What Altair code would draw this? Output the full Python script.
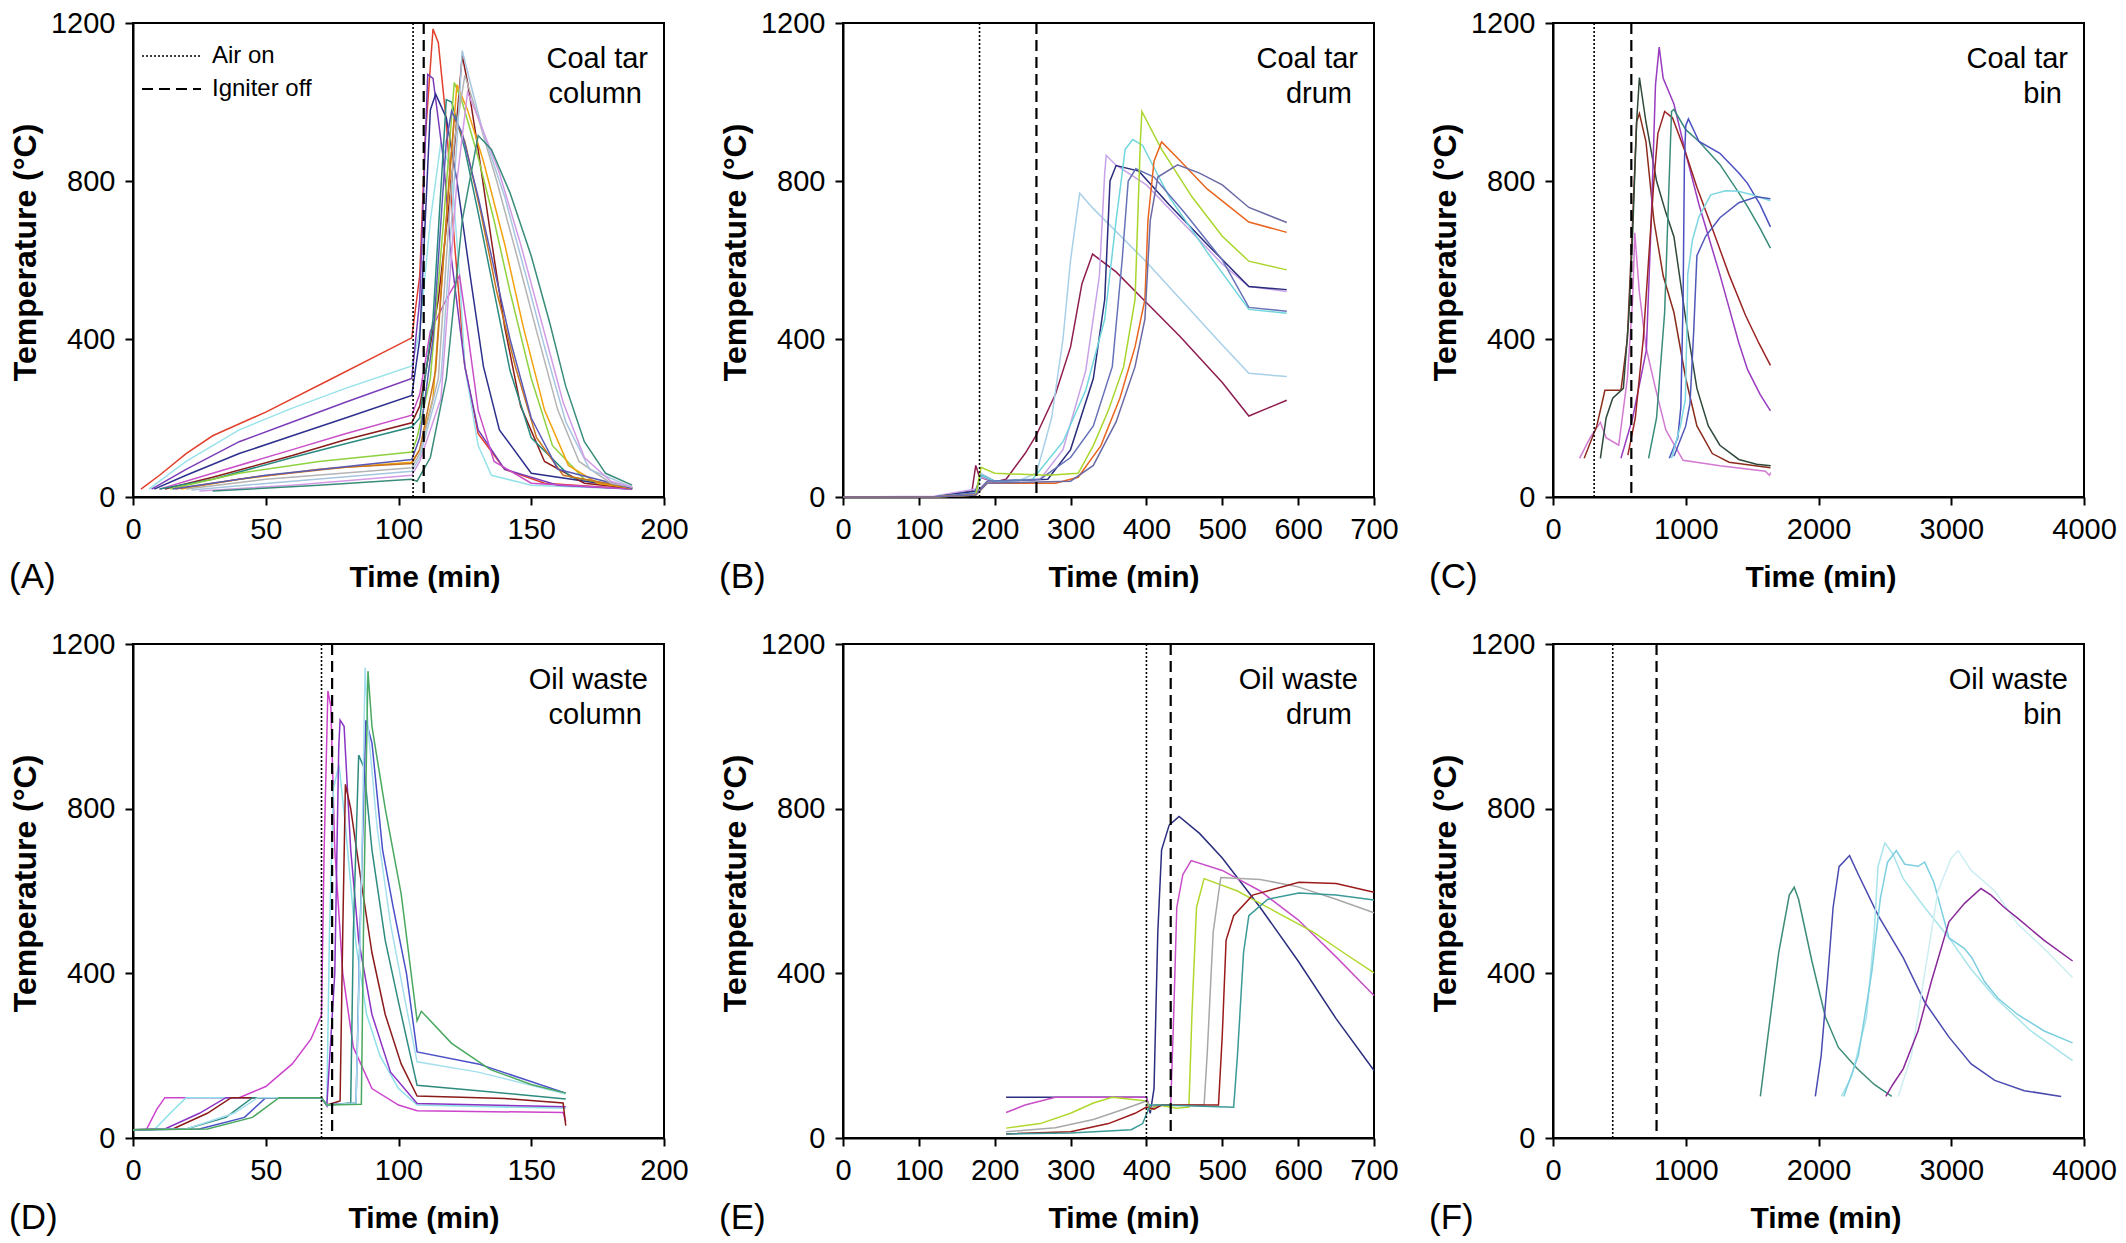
import altair as alt
import pandas as pd

FONT = "Liberation Sans, Arial, Helvetica, sans-serif"

# ---------------- Panel A: Coal tar column ----------------
A_red = [[3,20],[10,55],[20,110],[30,155],[50,215],[75,300],[105,403],[108,560],[110,900],[113,1185],[115,1150],[118,950],[121,650],[125,330],[130,160],[140,70],[155,35],[188,20]]
A_cyan = [[6,20],[20,90],[40,170],[60,225],[80,275],[105,332],[108,420],[112,700],[116,900],[120,820],[123,560],[125,330],[130,130],[135,55],[150,30],[188,20]]
A_purple = [[7,20],[20,70],[40,140],[60,190],[80,240],[105,300],[108,500],[111,1070],[113,1060],[117,850],[120,600],[125,330],[130,170],[140,70],[160,30],[188,20]]
A_navy = [[8,20],[20,55],[40,110],[60,155],[80,200],[105,257],[108,400],[112,980],[114,1020],[118,960],[122,800],[127,560],[132,330],[138,170],[150,60],[188,22]]
A_pink = [[10,20],[30,60],[60,120],[80,160],[105,207],[108,260],[112,420],[118,500],[123,560],[126,420],[130,220],[136,90],[150,35],[188,20]]
A_brown = [[12,20],[30,50],[60,105],[80,145],[105,188],[108,230],[115,500],[120,800],[124,1118],[126,1050],[130,880],[135,650],[140,430],[146,230],[155,90],[170,35],[188,22]]
A_teal = [[10,20],[30,45],[60,100],[80,135],[105,177],[108,200],[113,450],[118,1006],[120,1000],[125,880],[130,720],[136,520],[142,320],[150,150],[165,50],[188,22]]
A_lgreen = [[14,20],[40,60],[70,90],[105,114],[107,150],[112,300],[117,700],[121,1049],[124,1000],[130,860],[136,700],[142,520],[150,300],[158,130],[170,45],[188,22]]
A_orange = [[18,20],[40,45],[70,70],[105,88],[108,120],[113,250],[118,700],[122,1044],[126,980],[132,850],[140,640],[147,430],[155,220],[164,80],[175,35],[188,22]]
A_dorange = [[16,20],[45,50],[80,75],[105,85],[108,120],[114,320],[119,800],[121,960],[125,900],[131,720],[137,520],[144,330],[152,150],[162,55],[188,22]]
A_navy2 = [[15,20],[50,55],[105,95],[108,150],[113,400],[118,900],[120,977],[124,920],[130,760],[136,580],[142,400],[150,200],[160,70],[188,22]]
A_lgrey = [[20,20],[50,45],[105,74],[108,110],[115,300],[121,900],[125,1068],[130,960],[137,800],[145,600],[152,420],[160,220],[168,90],[180,35],[188,25]]
A_lblue = [[22,18],[60,40],[105,65],[108,100],[116,300],[122,900],[124,1130],[127,1050],[132,920],[140,760],[148,560],[155,380],[163,190],[172,70],[188,25]]
A_lavender = [[25,15],[60,30],[105,55],[108,90],[116,250],[122,800],[126,1025],[130,960],[138,820],[146,640],[154,440],[162,240],[170,100],[180,40],[188,25]]
A_dteal = [[30,15],[70,30],[105,45],[107,40],[112,100],[118,300],[124,700],[130,915],[135,880],[142,770],[150,610],[157,440],[163,280],[170,140],[178,60],[188,30]]

A_series = [A_red, A_cyan, A_purple, A_navy, A_pink, A_brown, A_teal, A_lgreen,
            A_orange, A_dorange, A_navy2, A_lgrey, A_lblue, A_lavender, A_dteal]
A_colors = ["#e2402c", "#98e2ea", "#7a3cb8", "#2c2f8c", "#c84fc8", "#8b1c1c", "#2a8a80", "#8fd13f",
            "#f2a20c", "#c8741e", "#5a5ab5", "#b4b4b4", "#a6c6e0", "#d39be6", "#3a8c7a"]

# ---------------- Panel B: Coal tar drum ----------------
B_maroon = [[0,0],[120,0],[170,15],[175,80],[180,50],[200,38],[215,45],[240,110],[255,157],[280,260],[300,380],[315,540],[329,615],[360,570],[394,504],[444,407],[500,290],[535,205],[560,225],[585,245]]
B_lightblue = [[0,0],[120,0],[175,15],[182,60],[200,40],[230,40],[255,60],[275,200],[290,400],[300,600],[312,769],[330,730],[400,595],[450,490],[500,385],[535,313],[585,305]]
B_lavender = [[0,0],[120,2],[175,20],[182,50],[200,40],[260,45],[290,120],[320,320],[338,560],[345,820],[347,865],[360,840],[400,790],[450,690],[500,590],[535,533],[585,520]]
B_navy = [[0,0],[120,0],[175,15],[182,55],[200,40],[270,45],[300,120],[330,300],[345,500],[352,800],[360,839],[390,825],[430,740],[480,640],[535,533],[585,525]]
B_cyan = [[0,0],[120,0],[175,10],[182,55],[200,40],[250,45],[290,140],[320,270],[345,450],[360,700],[372,880],[382,905],[395,890],[430,760],[480,620],[535,475],[585,465]]
B_slate = [[0,0],[120,0],[175,10],[190,40],[260,45],[300,100],[330,180],[355,330],[368,600],[376,800],[386,831],[410,810],[450,720],[500,600],[535,480],[585,470]]
B_lgreen = [[0,0],[120,0],[175,5],[182,75],[200,60],[270,55],[310,60],[330,130],[350,220],[370,330],[385,500],[392,900],[394,976],[420,880],[460,760],[500,660],[535,597],[585,575]]
B_orange = [[0,0],[120,0],[175,5],[190,35],[280,35],[310,50],[340,130],[365,250],[385,380],[398,500],[402,700],[410,850],[420,899],[440,860],[480,780],[535,696],[585,670]]
B_slate2 = [[0,0],[120,0],[175,5],[190,35],[300,40],[330,80],[360,190],[385,330],[398,450],[405,700],[415,810],[441,841],[470,820],[500,790],[535,733],[585,695]]

B_series = [B_maroon, B_lightblue, B_lavender, B_navy, B_cyan, B_slate, B_lgreen, B_orange, B_slate2]
B_colors = ["#8e1d4f", "#a8d0e8", "#c8a2e8", "#2a2c7c", "#6fd6dc", "#6672b8", "#aad62c", "#e8651e", "#6a6aa6"]

# ---------------- Panel C: Coal tar bin ----------------
C_pink = [[200,98],[280,150],[357,189],[400,150],[495,131],[560,300],[600,500],[616,669],[650,520],[700,380],[772,275],[850,170],[980,93],[1257,79],[1600,65],[1630,55],[1640,62]]
C_brown = [[235,98],[330,180],[391,270],[512,270],[560,400],[600,700],[630,950],[651,971],[700,900],[760,700],[830,560],[911,467],[1000,300],[1084,180],[1200,110],[1326,88],[1638,74]]
C_dgreen = [[357,98],[400,200],[450,250],[530,275],[570,450],[599,659],[630,950],[651,1062],[700,950],[780,800],[850,720],[911,659],[1000,450],[1084,275],[1170,180],[1257,131],[1400,95],[1534,83],[1640,79]]
C_purple = [[512,98],[600,200],[703,371],[740,700],[772,1043],[800,1139],[830,1060],[911,995],[1000,870],[1100,740],[1257,563],[1400,390],[1465,323],[1560,260],[1638,218]]
C_brown2 = [[564,106],[620,200],[680,400],[720,600],[760,800],[790,920],[841,976],[900,960],[1000,870],[1084,784],[1200,680],[1326,563],[1450,460],[1550,390],[1638,333]]
C_teal = [[720,98],[780,200],[841,467],[880,850],[893,976],[911,981],[1000,930],[1100,900],[1257,842],[1400,770],[1465,736],[1560,680],[1638,630]]
C_blue = [[876,98],[940,150],[963,227],[980,500],[990,850],[1000,940],[1020,957],[1100,900],[1257,870],[1400,820],[1465,794],[1560,740],[1638,684]]
C_cyan = [[893,98],[960,180],[997,247],[1010,450],[1015,563],[1050,650],[1100,710],[1188,765],[1300,775],[1396,774],[1500,765],[1638,750]]
C_blue2 = [[911,103],[1000,180],[1032,237],[1060,420],[1084,611],[1150,660],[1257,707],[1400,745],[1534,760],[1638,755]]

C_series = [C_pink, C_brown, C_dgreen, C_purple, C_brown2, C_teal, C_blue, C_cyan, C_blue2]
C_colors = ["#d27ad2", "#8a2c1c", "#2f4a3a", "#9a3cc0", "#9a2424", "#3a8c7a", "#4a50c0", "#7dd6e0", "#5058b8"]

# ---------------- Panel D: Oil waste column ----------------
D_magenta = [[0,20],[5,20],[9,70],[12,98],[40,98],[50,125],[60,180],[67,240],[71,299],[72,700],[73.4,1086],[74.5,1050],[76,700],[79,400],[83,220],[90,120],[100,80],[107,66],[162,62],[163,40]]
D_lcyan = [[0,20],[8,20],[14,60],[20,98],[71,98],[73,80],[74,500],[75.5,850],[77.6,906],[80,760],[84,470],[88,300],[93,200],[100,120],[107,80],[163,72]]
D_purple = [[0,20],[12,22],[25,60],[35,98],[71,98],[73,78],[76,400],[77.5,950],[78,1015],[79.5,1000],[82,700],[85,480],[90,300],[97,160],[107,84],[163,76]]
D_dred = [[0,20],[15,22],[28,60],[37,98],[71,98],[73,80],[78,90],[79,500],[80,859],[82,800],[86,620],[90,450],[95,300],[101,180],[107,102],[140,96],[162,85],[163,30]]
D_teal = [[0,20],[20,22],[35,50],[45,98],[71,98],[73,80],[82,85],[83,500],[85,930],[87,900],[90,700],[95,480],[100,330],[107,128],[130,115],[163,95]]
D_blue = [[0,20],[25,22],[42,50],[50,98],[71,98],[73,80],[84,85],[85.5,500],[87.7,1015],[90,960],[94,700],[98,560],[103,400],[107,209],[130,180],[163,109]]
D_lblue = [[0,20],[20,22],[38,60],[47,98],[71,98],[73,80],[84,85],[86,600],[87.4,1143],[88.5,1000],[92,750],[97,520],[102,350],[107,185],[130,160],[163,107]]
D_green = [[0,20],[28,22],[45,50],[55,98],[71,98],[73,80],[86,82],[87,600],[88.5,1134],[90,1000],[95,800],[101,593],[107,285],[108.6,308],[120,230],[134.6,166],[150,130],[163,109]]

D_series = [D_magenta, D_lcyan, D_purple, D_dred, D_teal, D_blue, D_lblue, D_green]
D_colors = ["#cc44cc", "#8ee0e8", "#8a34c4", "#8b1a1a", "#2e8b7f", "#4a50c8", "#a5dfee", "#4aa860"]

# ---------------- Panel E: Oil waste drum ----------------
E_navy = [[215,99],[400,99],[405,60],[410,120],[415,500],[420,700],[430,760],[443,781],[470,740],[500,680],[550,560],[600,430],[650,290],[700,164]]
E_magenta = [[215,62],[240,80],[280,99],[400,99],[405,70],[412,80],[432,80],[436,300],[440,560],[448,640],[459,674],[500,650],[550,600],[600,530],[650,440],[700,346]]
E_lgreen = [[215,24],[260,35],[300,60],[330,85],[355,99],[400,90],[405,70],[415,80],[440,72],[456,75],[460,300],[466,560],[476,630],[520,600],[570,550],[620,500],[660,450],[700,401]]
E_grey = [[215,15],[280,25],[330,45],[370,70],[400,90],[408,70],[420,80],[476,80],[480,200],[488,500],[498,633],[550,628],[600,610],[650,580],[700,547]]
E_dred = [[215,10],[300,15],[350,35],[385,60],[400,75],[410,70],[420,80],[495,80],[500,250],[505,480],[515,540],[540,590],[601,621],[650,618],[700,597]]
E_teal = [[215,10],[300,12],[380,20],[395,35],[405,80],[420,80],[515,75],[520,200],[528,450],[535,540],[560,580],[601,595],[650,590],[700,578]]

E_series = [E_navy, E_magenta, E_lgreen, E_grey, E_dred, E_teal]
E_colors = ["#2b2d7e", "#c850c8", "#b0d82c", "#a8a8a8", "#9b1a1a", "#3a9a98"]

# ---------------- Panel F: Oil waste bin ----------------
F_dteal = [[1562,101],[1620,250],[1700,450],[1780,590],[1817,609],[1850,580],[1950,430],[2052,294],[2150,220],[2293,168],[2420,130],[2552,101]]
F_navy = [[1976,101],[2020,200],[2069,390],[2110,560],[2155,659],[2234,686],[2300,640],[2450,540],[2638,438],[2800,330],[2983,245],[3150,180],[3328,140],[3550,115],[3828,101]]
F_lcyan = [[2172,101],[2250,150],[2362,294],[2420,500],[2448,659],[2500,717],[2560,690],[2638,630],[2800,560],[2983,486],[3150,410],[3328,342],[3600,260],[3914,188]]
F_cyan = [[2190,101],[2300,200],[2400,400],[2466,582],[2520,670],[2586,698],[2650,665],[2750,660],[2800,670],[2870,620],[2983,486],[3100,460],[3155,438],[3250,380],[3350,340],[3500,300],[3700,260],[3914,231]]
F_pale = [[2600,101],[2700,200],[2800,400],[2900,600],[3000,680],[3052,698],[3150,650],[3328,600],[3500,520],[3700,460],[3914,390]]
F_purple = [[2507,101],[2560,130],[2638,168],[2750,260],[2850,380],[2983,525],[3100,570],[3224,606],[3300,590],[3400,560],[3500,534],[3700,480],[3914,430]]

F_series = [F_dteal, F_navy, F_lcyan, F_cyan, F_pale, F_purple]
F_colors = ["#3c8c78", "#4a4ab0", "#a8e4ea", "#7ccfe0", "#cdeef2", "#8a2a9a"]

# ---------------- Axes / markers ----------------
X_MAX = [200, 700, 4000, 200, 700, 4000]
X_TICKS = [[0, 50, 100, 150, 200],
           [0, 100, 200, 300, 400, 500, 600, 700],
           [0, 1000, 2000, 3000, 4000],
           [0, 50, 100, 150, 200],
           [0, 100, 200, 300, 400, 500, 600, 700],
           [0, 1000, 2000, 3000, 4000]]
Y_TICKS = [0, 400, 800, 1200]
AIR_ON = [105.5, 180, 310, 71, 400, 450]
IGNITER_OFF = [109.5, 255, 590, 75, 432, 780]
LABEL_1 = ["Coal tar", "Coal tar", "Coal tar", "Oil waste", "Oil waste", "Oil waste"]
LABEL_2 = ["column", "drum", "bin", "column", "drum", "bin"]
LETTERS = ["(A)", "(B)", "(C)", "(D)", "(E)", "(F)"]
LEGEND_TEXT = ["Air on", "Igniter off"]

W = 531
H_ROW = [474, 494]
TITLE_DX = [26, 15, 2, 25, 15, 7]

dummy = pd.DataFrame({"a": [0]})


def make_panel(i, series, colors):
    h = H_ROW[i // 3]
    rows = []
    for k, pts in enumerate(series):
        nm = f"p{i}s{k}"
        for t, v in pts:
            rows.append({"t": t, "T": v, "s": nm, "c": colors[k]})
    df = pd.DataFrame(rows)
    xs = alt.Scale(domain=[0, X_MAX[i]], nice=False, zero=False)
    ys = alt.Scale(domain=[0, 1200], nice=False)
    xax = alt.Axis(values=X_TICKS[i], format="d", titleX=W / 2 + TITLE_DX[i], titleAlign="center")
    yax = alt.Axis(values=Y_TICKS, format="d", titleY=h / 2 - 8, titleAlign="center")

    lines = alt.Chart(df).mark_line(strokeWidth=1.5).encode(
        x=alt.X("t:Q", scale=xs, axis=xax, title="Time (min)"),
        y=alt.Y("T:Q", scale=ys, axis=yax, title="Temperature (°C)"),
        color=alt.Color("c:N", scale=None, legend=None),
        detail="s:N",
    )
    air = alt.Chart(pd.DataFrame({"t": [AIR_ON[i]]})).mark_rule(
        color="black", strokeWidth=1.6, strokeDash=[2, 2]
    ).encode(x=alt.X("t:Q", scale=xs, title="Time (min)"))
    ign = alt.Chart(pd.DataFrame({"t": [IGNITER_OFF[i]]})).mark_rule(
        color="black", strokeWidth=2.2, strokeDash=[11, 6]
    ).encode(x=alt.X("t:Q", scale=xs, title="Time (min)"))

    t1 = alt.Chart(dummy).mark_text(align="right", baseline="middle", font=FONT, fontSize=29, color="black").encode(
        x=alt.value(W - 16), y=alt.value(36), text=alt.value(LABEL_1[i]))
    t2 = alt.Chart(dummy).mark_text(align="right", baseline="middle", font=FONT, fontSize=29, color="black").encode(
        x=alt.value(W - 22), y=alt.value(71), text=alt.value(LABEL_2[i]))
    letter = alt.Chart(dummy).mark_text(align="left", baseline="middle", font=FONT, fontSize=35, color="black").encode(
        x=alt.value(-124), y=alt.value(h + 80), text=alt.value(LETTERS[i]))

    layers = [lines, air, ign, t1, t2, letter]
    if i == 0:
        leg1 = alt.Chart(dummy).mark_rule(color="black", strokeWidth=1.6, strokeDash=[2, 2]).encode(
            x=alt.value(9), x2=alt.value(68), y=alt.value(33))
        leg2 = alt.Chart(dummy).mark_rule(color="black", strokeWidth=2.2, strokeDash=[11, 6]).encode(
            x=alt.value(9), x2=alt.value(68), y=alt.value(66))
        lt1 = alt.Chart(dummy).mark_text(align="left", baseline="middle", font=FONT, fontSize=24, color="black").encode(
            x=alt.value(79), y=alt.value(33), text=alt.value(LEGEND_TEXT[0]))
        lt2 = alt.Chart(dummy).mark_text(align="left", baseline="middle", font=FONT, fontSize=24, color="black").encode(
            x=alt.value(79), y=alt.value(66), text=alt.value(LEGEND_TEXT[1]))
        layers += [leg1, leg2, lt1, lt2]
    return alt.layer(*layers).properties(width=W, height=h)


panels = [
    make_panel(0, A_series, A_colors),
    make_panel(1, B_series, B_colors),
    make_panel(2, C_series, C_colors),
    make_panel(3, D_series, D_colors),
    make_panel(4, E_series, E_colors),
    make_panel(5, F_series, F_colors),
]

chart = alt.concat(
    *panels, columns=3, spacing={"row": 147, "column": 179}, bounds="flush", align="each", padding=0
).configure_view(
    stroke="black", strokeWidth=2
).configure_axis(
    domainColor="black", domainWidth=2, tickColor="black", tickWidth=2, tickSize=8,
    labelFont=FONT, labelFontSize=29, labelColor="black", labelPadding=10,
    labelFlush=False, labelOverlap=False,
    titleFont=FONT, titleFontSize=30, titleFontWeight="bold", titleColor="black", grid=False,
).configure_axisX(
    titlePadding=18
).configure_axisY(
    titlePadding=8, titleFontSize=32
)

chart.save("out.html", embed_options={"renderer": "svg", "actions": False})
